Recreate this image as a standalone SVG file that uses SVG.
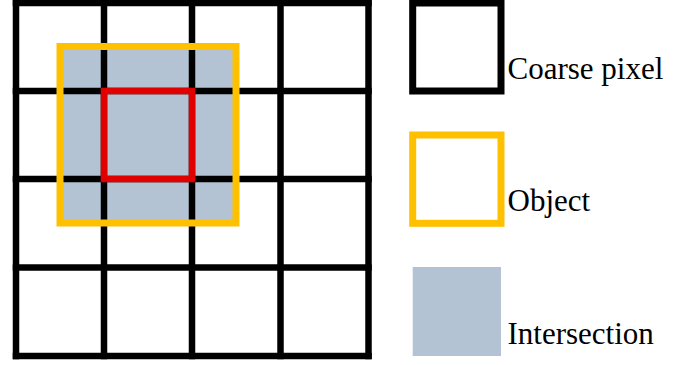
<svg xmlns="http://www.w3.org/2000/svg" width="692" height="365" viewBox="0 0 692 365">
<style>
.grid{stroke:#000;stroke-width:6.5;fill:none;stroke-linecap:square}
.obj{stroke:#ffc000;stroke-width:7;fill:none}
.cell{stroke:#e00000;stroke-width:6.5;fill:none}
.lbl{font-family:"Liberation Serif","Times New Roman",serif;font-size:31px;fill:#000}
</style>
<rect width="692" height="365" fill="#fff"/>
<g id="intersection-area">
<rect x="60" y="46.5" width="176" height="176.5" fill="#b3c3d3"/>
</g>
<g id="coarse-grid" class="grid">
<line x1="16" y1="3" x2="368.5" y2="3"/>
<line x1="16" y1="91" x2="368.5" y2="91"/>
<line x1="16" y1="179" x2="368.5" y2="179"/>
<line x1="16" y1="267.5" x2="368.5" y2="267.5"/>
<line x1="16" y1="356" x2="368.5" y2="356"/>
<line x1="16" y1="3" x2="16" y2="356"/>
<line x1="104" y1="3" x2="104" y2="356"/>
<line x1="192" y1="3" x2="192" y2="356"/>
<line x1="280.5" y1="3" x2="280.5" y2="356"/>
<line x1="368.5" y1="3" x2="368.5" y2="356"/>
</g>
<g id="target-cell">
<rect class="cell" x="104" y="91" width="88" height="88"/>
</g>
<g id="object-box">
<rect class="obj" x="60" y="46.5" width="176" height="176.5"/>
</g>
<g id="legend-coarse">
<rect x="412.7" y="3" width="88.3" height="88" fill="none" stroke="#000" stroke-width="7"/>
<text class="lbl" x="507.5" y="78.5">Coarse pixel</text>
</g>
<g id="legend-object">
<rect class="obj" x="412.7" y="135" width="88.3" height="88.3"/>
<text class="lbl" x="507.5" y="211">Object</text>
</g>
<g id="legend-intersection">
<rect x="412.7" y="267" width="88.3" height="89" fill="#b3c3d3"/>
<text class="lbl" x="507.5" y="343.5">Intersection</text>
</g>
</svg>
